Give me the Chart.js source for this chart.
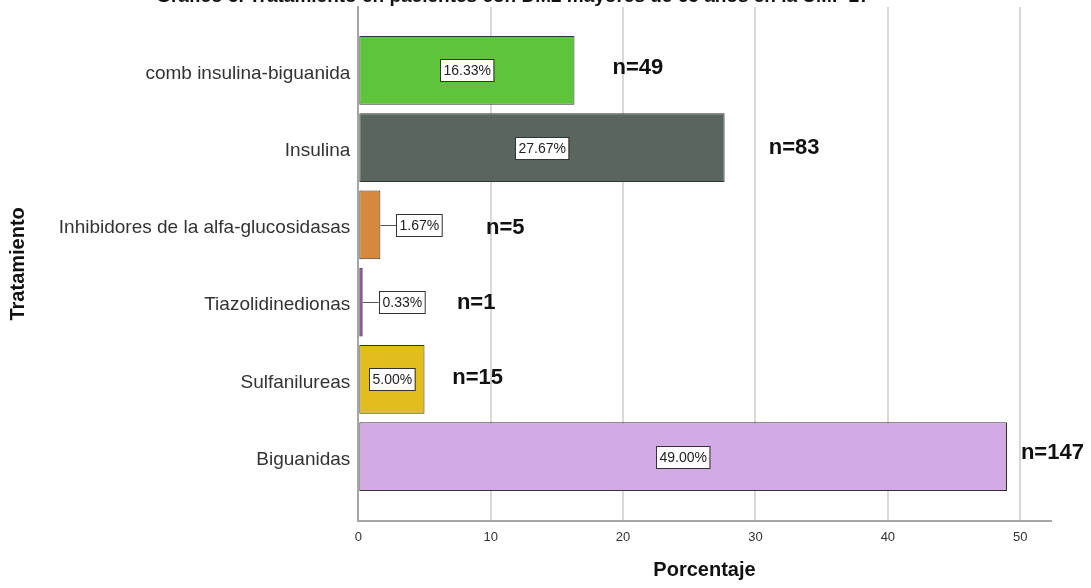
<!DOCTYPE html>
<html>
<head>
<meta charset="utf-8">
<script src="https://cdn.jsdelivr.net/npm/chart.js@4.4.1/dist/chart.umd.min.js"></script>
<style>
  html, body { margin: 0; padding: 0; background: #fff; }
  #wrap { width: 1091px; height: 588px; }
</style>
</head>
<body>
<div id="wrap"><canvas id="chart" width="1091" height="588"></canvas></div>
<script>
// Data
const chartTitle = 'Gráfico 5. Tratamiento en pacientes con DM2 mayores de 65 años en la UMF 27';
const categories = [
  'comb insulina-biguanida',
  'Insulina',
  'Inhibidores de la alfa-glucosidasas',
  'Tiazolidinedionas',
  'Sulfanilureas',
  'Biguanidas'
];
const percentages = [16.33, 27.67, 1.67, 0.33, 5.00, 49.00];
const counts = [49, 83, 5, 1, 15, 147];
const xTicks = [0, 10, 20, 30, 40, 50];

// where the hand-placed "n=" notes sit (x in percent units, small nudge in px)
const noteX = [19.2, 31.0, 9.65, 7.45, 7.1, 50.05];
const noteDy = [-2, 0, 3, 1, -1, -4];

const barColors = ['#5ec43b', '#5a655f', '#d4893f', '#7b2c8f', '#e1bd1e', '#d2aae4'];
const FONT = '"Liberation Sans", Arial, sans-serif';

const notesPlugin = {
  id: 'barNotes',
  afterDatasetsDraw(chart) {
    const ctx = chart.ctx;
    const meta = chart.getDatasetMeta(0);
    ctx.save();
    ctx.font = '14px ' + FONT;
    ctx.textBaseline = 'middle';
    ctx.textAlign = 'center';
    meta.data.forEach((bar, i) => {
      const txt = percentages[i].toFixed(2) + '%';
      const w = ctx.measureText(txt).width + 6;
      const h = 22;
      const y = Math.round(bar.y);
      let left;
      if (bar.x - bar.base > w + 8) {
        left = (bar.x + bar.base) / 2 - w / 2;
      } else {
        left = bar.x + 16;
        ctx.strokeStyle = '#555';
        ctx.lineWidth = 1;
        ctx.beginPath();
        ctx.moveTo(bar.x, y + 0.5);
        ctx.lineTo(left, y + 0.5);
        ctx.stroke();
      }
      left = Math.round(left);
      ctx.fillStyle = '#fff';
      ctx.fillRect(left, y - h / 2, w, h);
      ctx.strokeStyle = '#333';
      ctx.lineWidth = 1;
      ctx.strokeRect(left + 0.5, y - h / 2 + 0.5, w, h);
      ctx.fillStyle = '#222';
      ctx.fillText(txt, left + w / 2 + 0.5, y + 1);
    });
    ctx.restore();
  },
  afterDraw(chart) {
    const ctx = chart.ctx;
    const xs = chart.scales.x, ys = chart.scales.y;
    ctx.save();
    ctx.fillStyle = '#111';
    ctx.font = 'bold 22px ' + FONT;
    ctx.textAlign = 'left';
    ctx.textBaseline = 'middle';
    counts.forEach((n, i) => {
      ctx.fillText('n=' + n, xs.getPixelForValue(noteX[i]), ys.getPixelForValue(i) + noteDy[i]);
    });
    // title is cut off by the top edge in the reference
    ctx.font = 'bold 19px ' + FONT;
    ctx.textAlign = 'center';
    ctx.textBaseline = 'alphabetic';
    ctx.fillText(chartTitle, 513, 2);
    ctx.restore();
  }
};

new Chart(document.getElementById('chart'), {
  type: 'bar',
  data: {
    datasets: [{
      data: percentages.map((v, i) => ({ x: v, y: i })),
      backgroundColor: barColors,
      borderColor: '#333',
      borderWidth: 1,
      borderSkipped: false,
      barPercentage: 0.89,
      categoryPercentage: 1
    }]
  },
  options: {
    indexAxis: 'y',
    responsive: false,
    animation: false,
    devicePixelRatio: 1,
    layout: { padding: { top: 7, right: 40.3, bottom: 0, left: 0 } },
    plugins: {
      legend: { display: false },
      tooltip: { enabled: false }
    },
    scales: {
      x: {
        type: 'linear',
        min: 0,
        max: 52.3,
        offset: false,
        afterBuildTicks: s => { s.ticks = xTicks.map(v => ({ value: v })); },
        afterFit: s => { s.height = 67.3; s.paddingLeft = 0; s.paddingRight = 0; },
        grid: { color: '#d9d9d9', lineWidth: 2, drawTicks: false },
        border: { color: '#a6a6a6', width: 2 },
        ticks: { color: '#333', font: { family: FONT, size: 13 }, padding: 9 },
        title: {
          display: true,
          text: 'Porcentaje',
          color: '#111',
          font: { family: FONT, size: 20, weight: 'bold' },
          padding: { top: 0, bottom: 6 }
        }
      },
      y: {
        type: 'linear',
        reverse: true,
        min: -0.82,
        max: 5.83,
        offset: false,
        afterBuildTicks: s => { s.ticks = categories.map((c, i) => ({ value: i })); },
        afterFit: s => { s.width = 358.3; s.paddingTop = 0; s.paddingBottom = 0; },
        grid: { display: false, offset: false },
        border: { color: '#a6a6a6', width: 2 },
        ticks: {
          autoSkip: false,
          color: '#333',
          font: { family: FONT, size: 19 },
          padding: 0,
          labelOffset: 3,
          callback: v => categories[v] ?? ''
        },
        title: {
          display: true,
          text: 'Tratamiento',
          color: '#111',
          font: { family: FONT, size: 20, weight: 'bold' },
          padding: { top: 6, bottom: 0 }
        }
      }
    }
  },
  plugins: [notesPlugin]
});
</script>
</body>
</html>
